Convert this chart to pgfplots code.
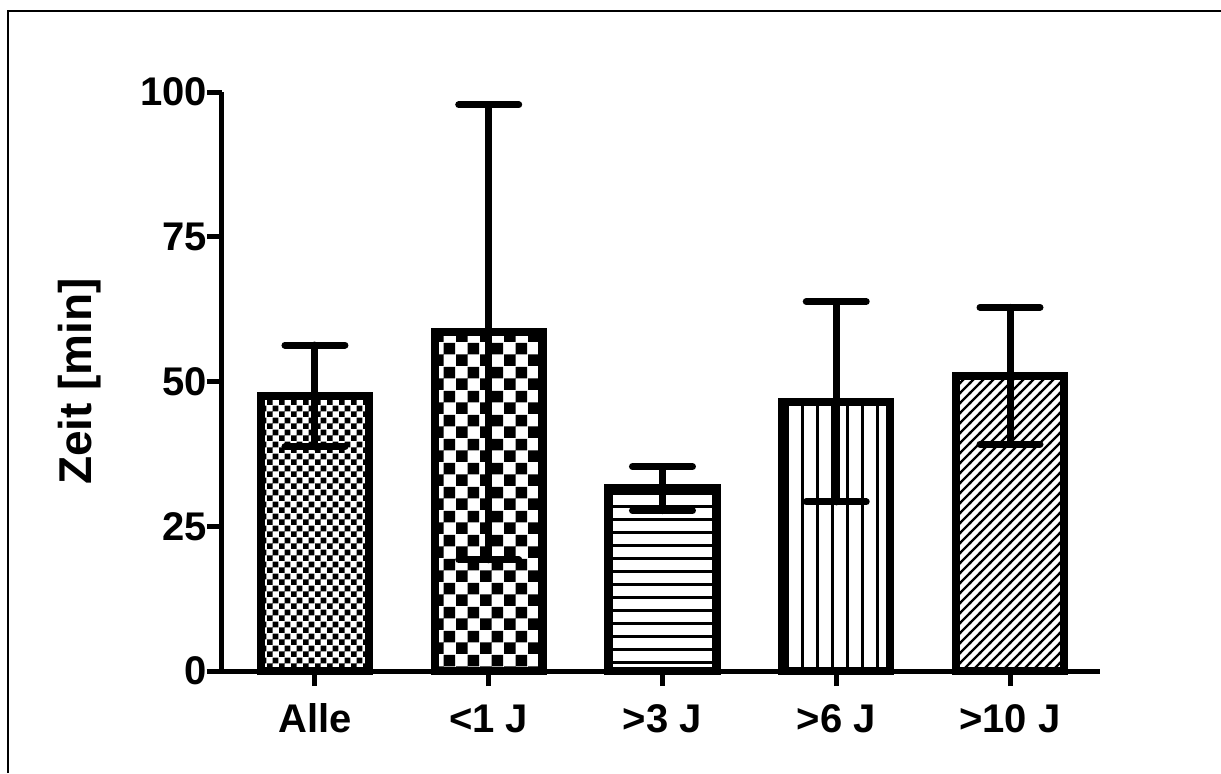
\documentclass[border=0pt]{standalone}
\usepackage{fontspec}
\setmainfont{Liberation Sans}
\usepackage{pgfplots}
\pgfplotsset{compat=1.18}
\usetikzlibrary{patterns}

\pgfdeclarepatternformonly{checkfine}{\pgfpointorigin}{\pgfpoint{5.8pt}{5.8pt}}{\pgfpoint{5.8pt}{5.8pt}}{%
 \pgfpathrectangle{\pgfpointorigin}{\pgfpoint{2.9pt}{2.9pt}}%
 \pgfpathrectangle{\pgfpoint{2.9pt}{2.9pt}}{\pgfpoint{2.9pt}{2.9pt}}%
 \pgfusepath{fill}}
\pgfdeclarepatternformonly{checkcoarse}{\pgfpointorigin}{\pgfpoint{12pt}{12pt}}{\pgfpoint{12pt}{12pt}}{%
 \pgfpathrectangle{\pgfpointorigin}{\pgfpoint{6pt}{6pt}}%
 \pgfpathrectangle{\pgfpoint{6pt}{6pt}}{\pgfpoint{6pt}{6pt}}%
 \pgfusepath{fill}}
\pgfdeclarepatternformonly{hlinesX}{\pgfpoint{-1pt}{-1pt}}{\pgfpoint{7.5pt}{7.5pt}}{\pgfpoint{6.5pt}{6.5pt}}{%
 \pgfsetlinewidth{1.1pt}%
 \pgfpathmoveto{\pgfpoint{-1pt}{3.25pt}}%
 \pgfpathlineto{\pgfpoint{7.5pt}{3.25pt}}%
 \pgfusepath{stroke}}
\pgfdeclarepatternformonly{vlinesX}{\pgfpoint{-1pt}{-1pt}}{\pgfpoint{8.5pt}{8.5pt}}{\pgfpoint{7.5pt}{7.5pt}}{%
 \pgfsetlinewidth{1.3pt}%
 \pgfpathmoveto{\pgfpoint{3.75pt}{-1pt}}%
 \pgfpathlineto{\pgfpoint{3.75pt}{8.5pt}}%
 \pgfusepath{stroke}}
\pgfdeclarepatternformonly{nelinesX}{\pgfpoint{-1pt}{-1pt}}{\pgfpoint{6pt}{6pt}}{\pgfpoint{5pt}{5pt}}{%
 \pgfsetlinewidth{1.1pt}%
 \pgfpathmoveto{\pgfpoint{-0.5pt}{-0.5pt}}%
 \pgfpathlineto{\pgfpoint{5.5pt}{5.5pt}}%
 \pgfusepath{stroke}}

\pgfplotsset{mybar/.style={ybar, bar width=0.62, bar shift=0pt, draw=black, line width=4.2pt,
   error bars/y dir=both, error bars/y explicit,
   error bars/error bar style={line width=3.5pt, line cap=round},
   error bars/error mark options={rotate=90, line width=3.5pt, mark size=15pt, line cap=round}}}

\begin{document}
\begin{tikzpicture}
\path[use as bounding box] (0,0) rectangle (610.5pt,386.5pt);
\draw[line width=1pt] (4pt,0) -- (4pt,381pt) -- (610.5pt,381pt);
\begin{axis}[at={(111pt,51pt)}, anchor=south west, scale only axis,
 width=439pt, height=289.5pt,
 xmin=-0.535, xmax=4.518, ymin=0, ymax=100,
 axis x line=bottom, axis y line=left,
 axis line style={-, line width=2.5pt},
 xtick={0,1,2,3,4}, xticklabels={Alle,{<1 J},{>3 J},{>6 J},{>10 J}},
 ytick={0,25,50,75,100},
 tick align=outside, major tick length=7.5pt,
 tick style={line width=2.5pt, black},
 ticklabel style={font=\bfseries\fontsize{20}{22}\selectfont},
 yticklabel style={xshift=3.5pt},
 xticklabel style={yshift=-5pt, text height=14.5pt, text depth=0pt},
 /pgf/number format/assume math mode=true,
 ylabel={Zeit [min]},
 ylabel style={font=\bfseries\fontsize{23}{24}\selectfont, at={(axis description cs:-0.162,0.5)}, anchor=center},
 clip=false,
]
\addplot[mybar, pattern=checkfine] coordinates {(0,47.5) +- (0,8.8)};
\addplot[mybar, pattern=checkcoarse] coordinates {(1,58.5) +- (0,39.3)};
\addplot[mybar, pattern=hlinesX] coordinates {(2,31.5) +- (0,3.8)};
\addplot[mybar, pattern=vlinesX] coordinates {(3,46.5) +- (0,17.3)};
\addplot[mybar, pattern=nelinesX] coordinates {(4,51) +- (0,11.8)};
\end{axis}
\end{tikzpicture}
\end{document}
